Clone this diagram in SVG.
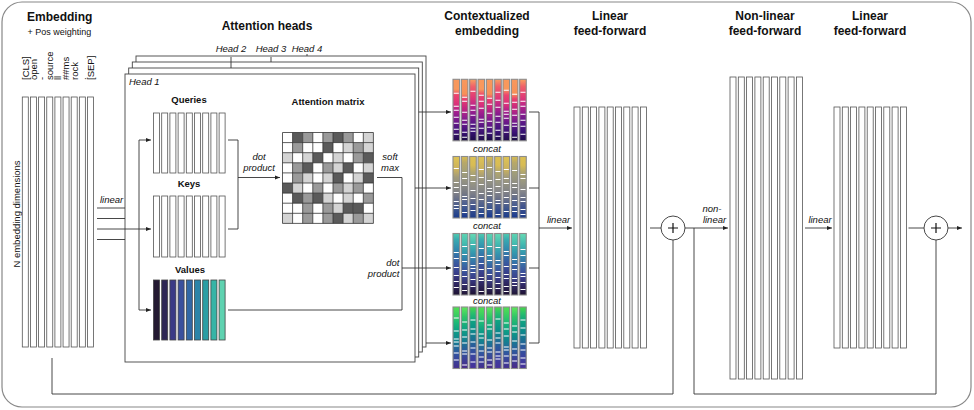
<svg xmlns="http://www.w3.org/2000/svg" width="974" height="410" viewBox="0 0 974 410">
<style>
.t{font-family:"Liberation Sans",Arial,sans-serif;fill:#111}
.title{font-size:12px;font-weight:bold}
.lbl{font-size:9.5px;font-weight:bold}
.it{font-size:9.5px;font-style:italic}
.rg{font-size:9.5px}
.ln{fill:none;stroke:#333;stroke-width:0.9}
.bar{fill:#fff;stroke:#555;stroke-width:0.8}
.head{fill:#fff;stroke:#444;stroke-width:0.9}
.cb{stroke:#8c8c8c;stroke-width:1.1}
.st{fill:none;stroke:#fff;stroke-width:1.1}
.gw{fill:#fff}.gl{fill:#d4d4d4}.gm{fill:#9a9a9a}.gd{fill:#5a5a5a}
</style>
<defs>
<marker id="ah" viewBox="0 0 6 6" refX="6" refY="3" markerWidth="5" markerHeight="5" markerUnits="userSpaceOnUse" orient="auto"><path d="M0,0.6L6,3L0,5.4z" fill="#222"/></marker>
<linearGradient id="g1a" x1="0" y1="0" x2="0" y2="1"><stop offset="0" stop-color="#f8985c"/><stop offset=".16" stop-color="#f8985c"/><stop offset=".26" stop-color="#ec4470"/><stop offset=".42" stop-color="#d8307c"/><stop offset=".52" stop-color="#a8208e"/><stop offset=".66" stop-color="#781a8c"/><stop offset=".8" stop-color="#4a1680"/><stop offset="1" stop-color="#200d4c"/></linearGradient>
<linearGradient id="g1b" x1="0" y1="0" x2="0" y2="1"><stop offset="0" stop-color="#f8985c"/><stop offset=".24" stop-color="#f79058"/><stop offset=".32" stop-color="#ea4070"/><stop offset=".46" stop-color="#c8287e"/><stop offset=".6" stop-color="#98208e"/><stop offset=".72" stop-color="#6a188a"/><stop offset=".86" stop-color="#3c1278"/><stop offset="1" stop-color="#180a40"/></linearGradient>
<linearGradient id="g1c" x1="0" y1="0" x2="0" y2="1"><stop offset="0" stop-color="#f8a060"/><stop offset=".12" stop-color="#f0606a"/><stop offset=".3" stop-color="#e03878"/><stop offset=".44" stop-color="#b8248a"/><stop offset=".56" stop-color="#8a1c8e"/><stop offset=".7" stop-color="#5c1888"/><stop offset=".84" stop-color="#3a1278"/><stop offset="1" stop-color="#1c0c48"/></linearGradient>
<linearGradient id="g2a" x1="0" y1="0" x2="0" y2="1"><stop offset="0" stop-color="#dcc052"/><stop offset=".14" stop-color="#d8bc54"/><stop offset=".26" stop-color="#b0a670"/><stop offset=".4" stop-color="#9a9880"/><stop offset=".55" stop-color="#88888a"/><stop offset=".68" stop-color="#6a7088"/><stop offset=".8" stop-color="#44568e"/><stop offset="1" stop-color="#1e3c8a"/></linearGradient>
<linearGradient id="g2b" x1="0" y1="0" x2="0" y2="1"><stop offset="0" stop-color="#e0c452"/><stop offset=".22" stop-color="#c8b060"/><stop offset=".34" stop-color="#a09a7c"/><stop offset=".5" stop-color="#8c8c84"/><stop offset=".62" stop-color="#7a7c88"/><stop offset=".76" stop-color="#56648c"/><stop offset=".88" stop-color="#34508e"/><stop offset="1" stop-color="#1a3a8c"/></linearGradient>
<linearGradient id="g2c" x1="0" y1="0" x2="0" y2="1"><stop offset="0" stop-color="#d8bc50"/><stop offset=".1" stop-color="#b8a868"/><stop offset=".24" stop-color="#a4a078"/><stop offset=".44" stop-color="#8e8e84"/><stop offset=".6" stop-color="#747884"/><stop offset=".72" stop-color="#5a6890"/><stop offset=".86" stop-color="#3a5490"/><stop offset="1" stop-color="#163690"/></linearGradient>
<linearGradient id="g3a" x1="0" y1="0" x2="0" y2="1"><stop offset="0" stop-color="#5cd4b2"/><stop offset=".14" stop-color="#48c0b0"/><stop offset=".28" stop-color="#35a0ae"/><stop offset=".42" stop-color="#3480ac"/><stop offset=".56" stop-color="#3a5ea2"/><stop offset=".7" stop-color="#3a4690"/><stop offset=".82" stop-color="#34306e"/><stop offset="1" stop-color="#201534"/></linearGradient>
<linearGradient id="g3b" x1="0" y1="0" x2="0" y2="1"><stop offset="0" stop-color="#66dab4"/><stop offset=".2" stop-color="#3eb4b0"/><stop offset=".34" stop-color="#3492ae"/><stop offset=".48" stop-color="#3872a8"/><stop offset=".62" stop-color="#3c529c"/><stop offset=".74" stop-color="#383a86"/><stop offset=".88" stop-color="#2c2258"/><stop offset="1" stop-color="#1c1030"/></linearGradient>
<linearGradient id="g3c" x1="0" y1="0" x2="0" y2="1"><stop offset="0" stop-color="#50ccb0"/><stop offset=".1" stop-color="#38aab0"/><stop offset=".26" stop-color="#3288ae"/><stop offset=".4" stop-color="#3668a6"/><stop offset=".54" stop-color="#3a4e9a"/><stop offset=".68" stop-color="#383a84"/><stop offset=".82" stop-color="#2e2660"/><stop offset="1" stop-color="#1e1232"/></linearGradient>
<linearGradient id="g4a" x1="0" y1="0" x2="0" y2="1"><stop offset="0" stop-color="#52e052"/><stop offset=".12" stop-color="#3ccf60"/><stop offset=".26" stop-color="#1cb878"/><stop offset=".4" stop-color="#0e9c86"/><stop offset=".54" stop-color="#12848e"/><stop offset=".66" stop-color="#246a9a"/><stop offset=".78" stop-color="#3450a0"/><stop offset="1" stop-color="#442e8e"/></linearGradient>
<linearGradient id="g4b" x1="0" y1="0" x2="0" y2="1"><stop offset="0" stop-color="#60e85a"/><stop offset=".16" stop-color="#30c468"/><stop offset=".32" stop-color="#14a880"/><stop offset=".46" stop-color="#0e908a"/><stop offset=".58" stop-color="#1a7694"/><stop offset=".7" stop-color="#2c5c9c"/><stop offset=".84" stop-color="#3c4298"/><stop offset="1" stop-color="#4a2a88"/></linearGradient>
<linearGradient id="g4c" x1="0" y1="0" x2="0" y2="1"><stop offset="0" stop-color="#48d848"/><stop offset=".1" stop-color="#28c06c"/><stop offset=".22" stop-color="#10a480"/><stop offset=".38" stop-color="#0c8c8a"/><stop offset=".52" stop-color="#1a7292"/><stop offset=".64" stop-color="#2a5a9c"/><stop offset=".8" stop-color="#3a44a0"/><stop offset="1" stop-color="#48309a"/></linearGradient>
<rect id="cb" class="cb" width="6.6" height="61.5"/>
<path id="s0" class="st" d="M0.8 14h5M0.8 27h5M0.8 31h5M0.8 38h5M0.8 44h5M0.8 50h5M0.8 55h5"/>
<path id="s1" class="st" d="M0.8 18h5M0.8 22h5M0.8 33h5M0.8 41h5M0.8 45h5M0.8 53h5M0.8 58h5"/>
<path id="s2" class="st" d="M0.8 12h5M0.8 26h5M0.8 31h5M0.8 36h5M0.8 45h5M0.8 49h5M0.8 52h5"/>
<path id="s3" class="st" d="M0.8 16h5M0.8 22h5M0.8 29h5M0.8 40h5M0.8 43h5M0.8 49h5M0.8 56h5"/>
<path id="s4" class="st" d="M0.8 19h5M0.8 25h5M0.8 34h5M0.8 42h5M0.8 48h5M0.8 54h5"/>
<path id="s5" class="st" d="M0.8 13h5M0.8 21h5M0.8 28h5M0.8 37h5M0.8 43h5M0.8 51h5M0.8 57h5"/>
<path id="s6" class="st" d="M0.8 11h5M0.8 24h5M0.8 32h5M0.8 35h5M0.8 39h5M0.8 46h5M0.8 53h5"/>
<path id="s7" class="st" d="M0.8 15h5M0.8 23h5M0.8 30h5M0.8 36h5M0.8 44h5M0.8 47h5M0.8 58h5"/>
<path id="s8" class="st" d="M0.8 13h5M0.8 22h5M0.8 27h5M0.8 35h5M0.8 41h5M0.8 47h5M0.8 55h5"/>
</defs>

<rect id="frame" x="2" y="2" width="969" height="405" rx="20" fill="#fff" stroke="#888" stroke-width="1.2"/>

<g id="embedding">
<text class="t title" x="27" y="21">Embedding</text>
<text class="t rg" x="27.5" y="34.5" style="font-size:9px">+ Pos weighting</text>
<text class="t rg" transform="translate(20.4,214) rotate(-90)" text-anchor="middle">N embedding dimensions</text>
<g class="t rg">
<text transform="translate(28.6,80) rotate(-90)">[CLS]</text>
<text transform="translate(36.75,80) rotate(-90)">open</text>
<text transform="translate(44.9,80) rotate(-90)">-</text>
<text transform="translate(53.05,80) rotate(-90)">source</text>
<text transform="translate(61.2,80) rotate(-90)">ll</text>
<text transform="translate(69.35,80) rotate(-90)">##ms</text>
<text transform="translate(77.5,80) rotate(-90)">rock</text>
<text transform="translate(85.65,80) rotate(-90)">.</text>
<text transform="translate(93.8,80) rotate(-90)">[SEP]</text>
</g>
<g class="bar">
<rect x="22.3" y="97" width="6" height="250"/><rect x="30.45" y="97" width="6" height="250"/><rect x="38.6" y="97" width="6" height="250"/><rect x="46.75" y="97" width="6" height="250"/><rect x="54.9" y="97" width="6" height="250"/><rect x="63.05" y="97" width="6" height="250"/><rect x="71.2" y="97" width="6" height="250"/><rect x="79.35" y="97" width="6" height="250"/><rect x="87.5" y="97" width="6" height="250"/>
</g>
</g>

<g id="attention-heads">
<text class="t title" x="267" y="30" text-anchor="middle">Attention heads</text>
<rect id="head4" class="head" x="136" y="56" width="290" height="291"/>
<rect id="head3" class="head" x="132.3" y="62" width="290" height="290"/>
<rect id="head2" class="head" x="128.7" y="68" width="290" height="289"/>
<rect id="head1" class="head" x="125" y="74" width="290" height="288"/>
<text class="t it" x="231" y="52" text-anchor="middle">Head 2</text>
<text class="t it" x="271" y="52" text-anchor="middle">Head 3</text>
<text class="t it" x="307" y="52" text-anchor="middle">Head 4</text>
<text class="t it" x="129" y="85">Head 1</text>
</g>

<g id="queries">
<text class="t lbl" x="189" y="103" text-anchor="middle">Queries</text>
<g class="bar"><rect x="153.5" y="113" width="6" height="60"/><rect x="161.7" y="113" width="6" height="60"/><rect x="169.9" y="113" width="6" height="60"/><rect x="178.1" y="113" width="6" height="60"/><rect x="186.3" y="113" width="6" height="60"/><rect x="194.5" y="113" width="6" height="60"/><rect x="202.7" y="113" width="6" height="60"/><rect x="210.9" y="113" width="6" height="60"/><rect x="219.1" y="113" width="6" height="60"/></g>
</g>
<g id="keys">
<text class="t lbl" x="189" y="187" text-anchor="middle">Keys</text>
<g class="bar"><rect x="153.5" y="196" width="6" height="61"/><rect x="161.7" y="196" width="6" height="61"/><rect x="169.9" y="196" width="6" height="61"/><rect x="178.1" y="196" width="6" height="61"/><rect x="186.3" y="196" width="6" height="61"/><rect x="194.5" y="196" width="6" height="61"/><rect x="202.7" y="196" width="6" height="61"/><rect x="210.9" y="196" width="6" height="61"/><rect x="219.1" y="196" width="6" height="61"/></g>
</g>
<g id="values">
<text class="t lbl" x="190" y="272.5" text-anchor="middle">Values</text>
<g stroke="#444" stroke-width="0.8">
<rect x="153.5" y="280" width="6" height="60" fill="#241a32"/><rect x="161.7" y="280" width="6" height="60" fill="#2d2554"/><rect x="169.9" y="280" width="6" height="60" fill="#3a3a86"/><rect x="178.1" y="280" width="6" height="60" fill="#3a509e"/><rect x="186.3" y="280" width="6" height="60" fill="#3268a6"/><rect x="194.5" y="280" width="6" height="60" fill="#2c84a8"/><rect x="202.7" y="280" width="6" height="60" fill="#2a9ea4"/><rect x="210.9" y="280" width="6" height="60" fill="#36b4a6"/><rect x="219.1" y="280" width="6" height="60" fill="#5ed2b0"/>
</g>
</g>

<g id="attention-matrix">
<text class="t lbl" x="328" y="105" text-anchor="middle">Attention matrix</text>
<rect x="282.5" y="132.5" width="90.9" height="90.9" fill="#fff"/>
<g>
<rect class="gd" x="292.6" y="132.5" width="10.1" height="10.1"/><rect class="gm" x="302.7" y="132.5" width="10.1" height="10.1"/><rect class="gm" x="322.9" y="132.5" width="10.1" height="10.1"/><rect class="gd" x="333" y="132.5" width="10.1" height="10.1"/><rect class="gm" x="343.1" y="132.5" width="10.1" height="10.1"/><rect class="gl" x="363.3" y="132.5" width="10.1" height="10.1"/>
<rect class="gm" x="292.6" y="142.6" width="10.1" height="10.1"/><rect class="gd" x="322.9" y="142.6" width="10.1" height="10.1"/><rect class="gl" x="343.1" y="142.6" width="10.1" height="10.1"/><rect class="gm" x="353.2" y="142.6" width="10.1" height="10.1"/><rect class="gl" x="363.3" y="142.6" width="10.1" height="10.1"/>
<rect class="gl" x="282.5" y="152.7" width="10.1" height="10.1"/><rect class="gl" x="302.7" y="152.7" width="10.1" height="10.1"/><rect class="gd" x="312.8" y="152.7" width="10.1" height="10.1"/><rect class="gl" x="333" y="152.7" width="10.1" height="10.1"/><rect class="gm" x="353.2" y="152.7" width="10.1" height="10.1"/><rect class="gd" x="363.3" y="152.7" width="10.1" height="10.1"/>
<rect class="gm" x="292.6" y="162.8" width="10.1" height="10.1"/><rect class="gd" x="302.7" y="162.8" width="10.1" height="10.1"/><rect class="gm" x="322.9" y="162.8" width="10.1" height="10.1"/><rect class="gl" x="333" y="162.8" width="10.1" height="10.1"/><rect class="gd" x="343.1" y="162.8" width="10.1" height="10.1"/><rect class="gl" x="363.3" y="162.8" width="10.1" height="10.1"/>
<rect class="gm" x="292.6" y="172.9" width="10.1" height="10.1"/><rect class="gl" x="302.7" y="172.9" width="10.1" height="10.1"/><rect class="gl" x="322.9" y="172.9" width="10.1" height="10.1"/><rect class="gd" x="333" y="172.9" width="10.1" height="10.1"/><rect class="gl" x="353.2" y="172.9" width="10.1" height="10.1"/><rect class="gd" x="363.3" y="172.9" width="10.1" height="10.1"/>
<rect class="gd" x="282.5" y="183" width="10.1" height="10.1"/><rect class="gl" x="292.6" y="183" width="10.1" height="10.1"/><rect class="gm" x="312.8" y="183" width="10.1" height="10.1"/><rect class="gm" x="333" y="183" width="10.1" height="10.1"/><rect class="gl" x="343.1" y="183" width="10.1" height="10.1"/><rect class="gm" x="353.2" y="183" width="10.1" height="10.1"/>
<rect class="gd" x="292.6" y="193.1" width="10.1" height="10.1"/><rect class="gm" x="302.7" y="193.1" width="10.1" height="10.1"/><rect class="gd" x="312.8" y="193.1" width="10.1" height="10.1"/><rect class="gl" x="322.9" y="193.1" width="10.1" height="10.1"/><rect class="gl" x="343.1" y="193.1" width="10.1" height="10.1"/><rect class="gm" x="363.3" y="193.1" width="10.1" height="10.1"/>
<rect class="gm" x="302.7" y="203.2" width="10.1" height="10.1"/><rect class="gm" x="322.9" y="203.2" width="10.1" height="10.1"/><rect class="gl" x="333" y="203.2" width="10.1" height="10.1"/><rect class="gd" x="343.1" y="203.2" width="10.1" height="10.1"/><rect class="gd" x="353.2" y="203.2" width="10.1" height="10.1"/>
<rect class="gl" x="282.5" y="213.3" width="10.1" height="10.1"/><rect class="gm" x="302.7" y="213.3" width="10.1" height="10.1"/><rect class="gm" x="322.9" y="213.3" width="10.1" height="10.1"/><rect class="gd" x="333" y="213.3" width="10.1" height="10.1"/><rect class="gl" x="343.1" y="213.3" width="10.1" height="10.1"/><rect class="gm" x="353.2" y="213.3" width="10.1" height="10.1"/><rect class="gl" x="363.3" y="213.3" width="10.1" height="10.1"/>
</g>
<path fill="none" stroke="#333" stroke-width="0.8" d="M282.5 132.5V223.4M292.6 132.5V223.4M302.7 132.5V223.4M312.8 132.5V223.4M322.9 132.5V223.4M333 132.5V223.4M343.1 132.5V223.4M353.2 132.5V223.4M363.3 132.5V223.4M373.4 132.5V223.4M282.5 132.5H373.4M282.5 142.6H373.4M282.5 152.7H373.4M282.5 162.8H373.4M282.5 172.9H373.4M282.5 183H373.4M282.5 193.1H373.4M282.5 203.2H373.4M282.5 213.3H373.4M282.5 223.4H373.4"/>
</g>

<g id="contextualized">
<text class="t title" x="487" y="20" text-anchor="middle">Contextualized</text>
<text class="t title" x="487" y="34.5" text-anchor="middle">embedding</text>
<text class="t it" x="487" y="151.5" text-anchor="middle">concat</text>
<text class="t it" x="487" y="229" text-anchor="middle">concat</text>
<text class="t it" x="487" y="304" text-anchor="middle">concat</text>
</g>
<g id="ctx1">
<use href="#cb" x="453" y="79.3" fill="url(#g1a)"/><use href="#s0" x="453" y="79.3"/>
<use href="#cb" x="461.33" y="79.3" fill="url(#g1b)"/><use href="#s1" x="461.33" y="79.3"/>
<use href="#cb" x="469.67" y="79.3" fill="url(#g1c)"/><use href="#s2" x="469.67" y="79.3"/>
<use href="#cb" x="478" y="79.3" fill="url(#g1a)"/><use href="#s3" x="478" y="79.3"/>
<use href="#cb" x="486.33" y="79.3" fill="url(#g1b)"/><use href="#s4" x="486.33" y="79.3"/>
<use href="#cb" x="494.67" y="79.3" fill="url(#g1c)"/><use href="#s5" x="494.67" y="79.3"/>
<use href="#cb" x="503" y="79.3" fill="url(#g1a)"/><use href="#s6" x="503" y="79.3"/>
<use href="#cb" x="511.33" y="79.3" fill="url(#g1b)"/><use href="#s7" x="511.33" y="79.3"/>
<use href="#cb" x="519.67" y="79.3" fill="url(#g1c)"/><use href="#s8" x="519.67" y="79.3"/>
</g>
<g id="ctx2">
<use href="#cb" x="453" y="156.5" fill="url(#g2b)"/><use href="#s2" x="453" y="156.5"/>
<use href="#cb" x="461.33" y="156.5" fill="url(#g2c)"/><use href="#s3" x="461.33" y="156.5"/>
<use href="#cb" x="469.67" y="156.5" fill="url(#g2a)"/><use href="#s4" x="469.67" y="156.5"/>
<use href="#cb" x="478" y="156.5" fill="url(#g2b)"/><use href="#s5" x="478" y="156.5"/>
<use href="#cb" x="486.33" y="156.5" fill="url(#g2c)"/><use href="#s6" x="486.33" y="156.5"/>
<use href="#cb" x="494.67" y="156.5" fill="url(#g2a)"/><use href="#s7" x="494.67" y="156.5"/>
<use href="#cb" x="503" y="156.5" fill="url(#g2b)"/><use href="#s8" x="503" y="156.5"/>
<use href="#cb" x="511.33" y="156.5" fill="url(#g2c)"/><use href="#s0" x="511.33" y="156.5"/>
<use href="#cb" x="519.67" y="156.5" fill="url(#g2a)"/><use href="#s1" x="519.67" y="156.5"/>
</g>
<g id="ctx3">
<use href="#cb" x="453" y="233.5" fill="url(#g3c)"/><use href="#s4" x="453" y="233.5"/>
<use href="#cb" x="461.33" y="233.5" fill="url(#g3a)"/><use href="#s5" x="461.33" y="233.5"/>
<use href="#cb" x="469.67" y="233.5" fill="url(#g3b)"/><use href="#s6" x="469.67" y="233.5"/>
<use href="#cb" x="478" y="233.5" fill="url(#g3c)"/><use href="#s7" x="478" y="233.5"/>
<use href="#cb" x="486.33" y="233.5" fill="url(#g3a)"/><use href="#s8" x="486.33" y="233.5"/>
<use href="#cb" x="494.67" y="233.5" fill="url(#g3b)"/><use href="#s0" x="494.67" y="233.5"/>
<use href="#cb" x="503" y="233.5" fill="url(#g3c)"/><use href="#s1" x="503" y="233.5"/>
<use href="#cb" x="511.33" y="233.5" fill="url(#g3a)"/><use href="#s2" x="511.33" y="233.5"/>
<use href="#cb" x="519.67" y="233.5" fill="url(#g3b)"/><use href="#s3" x="519.67" y="233.5"/>
</g>
<g id="ctx4">
<use href="#cb" x="453" y="307" fill="url(#g4a)"/><use href="#s6" x="453" y="307"/>
<use href="#cb" x="461.33" y="307" fill="url(#g4b)"/><use href="#s7" x="461.33" y="307"/>
<use href="#cb" x="469.67" y="307" fill="url(#g4c)"/><use href="#s8" x="469.67" y="307"/>
<use href="#cb" x="478" y="307" fill="url(#g4a)"/><use href="#s0" x="478" y="307"/>
<use href="#cb" x="486.33" y="307" fill="url(#g4b)"/><use href="#s1" x="486.33" y="307"/>
<use href="#cb" x="494.67" y="307" fill="url(#g4c)"/><use href="#s2" x="494.67" y="307"/>
<use href="#cb" x="503" y="307" fill="url(#g4a)"/><use href="#s3" x="503" y="307"/>
<use href="#cb" x="511.33" y="307" fill="url(#g4b)"/><use href="#s4" x="511.33" y="307"/>
<use href="#cb" x="519.67" y="307" fill="url(#g4c)"/><use href="#s5" x="519.67" y="307"/>
</g>

<g id="linear-ff-1">
<text class="t title" x="610" y="20" text-anchor="middle">Linear</text>
<text class="t title" x="610" y="34.5" text-anchor="middle">feed-forward</text>
<g class="bar"><rect x="574" y="107" width="6" height="241"/><rect x="582.3" y="107" width="6" height="241"/><rect x="590.6" y="107" width="6" height="241"/><rect x="598.9" y="107" width="6" height="241"/><rect x="607.2" y="107" width="6" height="241"/><rect x="615.5" y="107" width="6" height="241"/><rect x="623.8" y="107" width="6" height="241"/><rect x="632.1" y="107" width="6" height="241"/><rect x="640.4" y="107" width="6" height="241"/></g>
</g>
<g id="add-1">
<circle cx="673" cy="228" r="12" fill="#fff" stroke="#333" stroke-width="0.9"/>
<path d="M668 228H678M673 223V233" stroke="#111" stroke-width="1.2"/>
</g>
<g id="nonlinear-ff">
<text class="t title" x="765" y="20" text-anchor="middle">Non-linear</text>
<text class="t title" x="765" y="34.5" text-anchor="middle">feed-forward</text>
<g class="bar"><rect x="730" y="77" width="6" height="302"/><rect x="738.3" y="77" width="6" height="302"/><rect x="746.6" y="77" width="6" height="302"/><rect x="754.9" y="77" width="6" height="302"/><rect x="763.2" y="77" width="6" height="302"/><rect x="771.5" y="77" width="6" height="302"/><rect x="779.8" y="77" width="6" height="302"/><rect x="788.1" y="77" width="6" height="302"/><rect x="796.4" y="77" width="6" height="302"/></g>
</g>
<g id="linear-ff-2">
<text class="t title" x="870" y="20" text-anchor="middle">Linear</text>
<text class="t title" x="870" y="34.5" text-anchor="middle">feed-forward</text>
<g class="bar"><rect x="834" y="107" width="6" height="241"/><rect x="842.3" y="107" width="6" height="241"/><rect x="850.6" y="107" width="6" height="241"/><rect x="858.9" y="107" width="6" height="241"/><rect x="867.2" y="107" width="6" height="241"/><rect x="875.5" y="107" width="6" height="241"/><rect x="883.8" y="107" width="6" height="241"/><rect x="892.1" y="107" width="6" height="241"/><rect x="900.4" y="107" width="6" height="241"/></g>
</g>
<g id="add-2">
<circle cx="936" cy="228" r="12" fill="#fff" stroke="#333" stroke-width="0.9"/>
<path d="M931 228H941M936 223V233" stroke="#111" stroke-width="1.2"/>
</g>

<g id="connectors">
<path class="ln" d="M231 57V68M271 57V62M307 54V56"/>
<path class="ln" d="M97 208H125M97 218.5H125M97 239.5H125"/>
<path class="ln" d="M97 229H151" marker-end="url(#ah)"/>
<path class="ln" d="M139 140V310"/>
<path class="ln" d="M139 140H151" marker-end="url(#ah)"/>
<path class="ln" d="M139 310H151" marker-end="url(#ah)"/>
<path class="ln" d="M228 140H238V229H228"/>
<path class="ln" d="M238 177.5H280" marker-end="url(#ah)"/>
<path class="ln" d="M377 177.5H402V310H228"/>
<path class="ln" d="M402 268H451" marker-end="url(#ah)"/>
<path class="ln" d="M418.7 112H451" marker-end="url(#ah)"/>
<path class="ln" d="M415 188H451" marker-end="url(#ah)"/>
<path class="ln" d="M426 343H451" marker-end="url(#ah)"/>
<path class="ln" d="M529 112H539M529 188H539M529 268H539M529 343H539M539 112V343"/>
<path class="ln" d="M539 228H572" marker-end="url(#ah)"/>
<path class="ln" d="M650 228H661"/>
<path class="ln" d="M685 228H728" marker-end="url(#ah)"/>
<path class="ln" d="M805 228H832" marker-end="url(#ah)"/>
<path class="ln" d="M908.5 228H924"/>
<path class="ln" d="M948 228H962" marker-end="url(#ah)"/>
<path class="ln" d="M52 358V394H673V240"/>
<path class="ln" d="M694 228V394H936V240"/>
<g class="t it">
<text x="100" y="203">linear</text>
<text x="259" y="160" text-anchor="middle">dot</text>
<text x="259" y="170.5" text-anchor="middle">product</text>
<text x="390" y="160" text-anchor="middle">soft</text>
<text x="390" y="170.5" text-anchor="middle">max</text>
<text x="399.5" y="266" text-anchor="end">dot</text>
<text x="399.5" y="276.5" text-anchor="end">product</text>
<text x="558.5" y="223" text-anchor="middle">linear</text>
<text x="712" y="211.5" text-anchor="middle">non-</text>
<text x="714.5" y="223" text-anchor="middle">linear</text>
<text x="820" y="223" text-anchor="middle">linear</text>
</g>
</g>
</svg>
